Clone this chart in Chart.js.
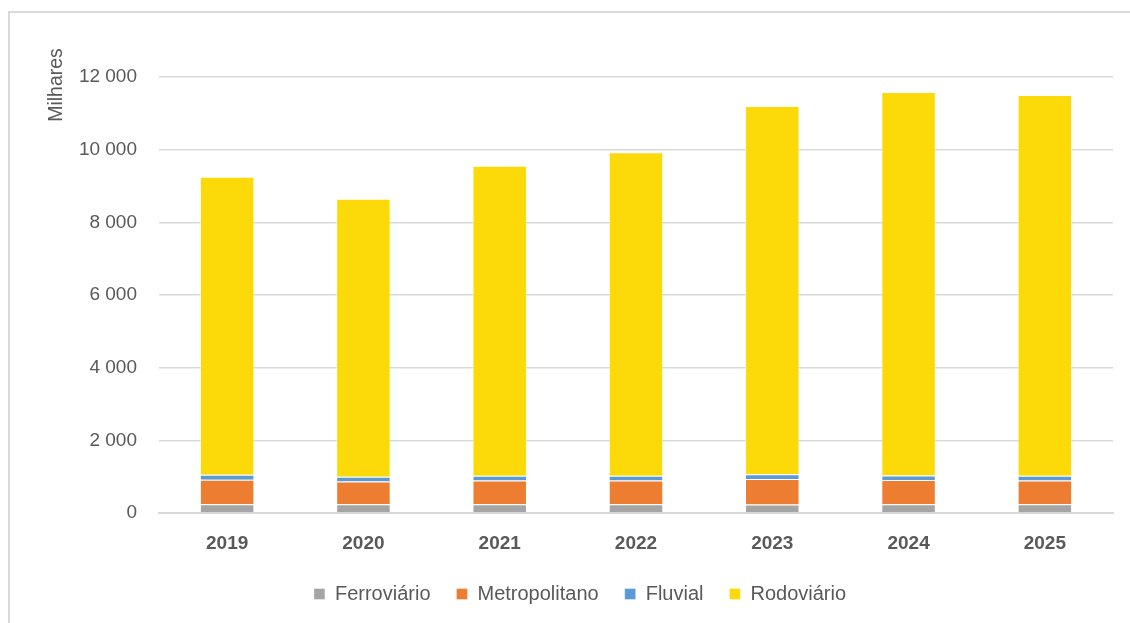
<!DOCTYPE html>
<html>
<head>
<meta charset="utf-8">
<script src="https://cdn.jsdelivr.net/npm/chart.js@4/dist/chart.umd.min.js"></script>
<style>
  html, body { margin: 0; padding: 0; background: #ffffff; overflow: hidden; }
  #frame {
    position: absolute; left: 8px; top: 11px; width: 1140px; height: 640px;
    border-left: 2px solid #d9d9d9; border-top: 2px solid #d9d9d9;
    box-sizing: border-box;
  }
  #wrap { position: absolute; left: 0; top: 0; width: 1130px; height: 623px; }
</style>
</head>
<body>
<div id="frame"></div>
<div id="wrap"><canvas id="c" width="1130" height="623"></canvas></div>
<script>
// Passageiros transportados por modo (milhares)
const anos = ['2019', '2020', '2021', '2022', '2023', '2024', '2025'];
const ferroviario   = [240, 240, 240, 240, 235, 240, 240];
const metropolitano = [675, 630, 655, 655, 700, 665, 655];
const fluvial       = [138, 127, 127, 127, 129, 129, 127];
const rodoviario    = [8200, 7655, 8535, 8905, 10140, 10550, 10485];
const yTicks = [0, 2000, 4000, 6000, 8000, 10000, 12000];

const FONT = '"Liberation Sans", Arial, sans-serif';
const TXT = '#595959';
const PAD_LEFT = 47;

const fmt = v => String(v).replace(/\B(?=(\d{3})+(?!\d))/g, ' ');

// rotated unit label at the top of the value axis
const unitLabel = {
  id: 'unitLabel',
  afterDraw(chart) {
    const ctx = chart.ctx;
    ctx.save();
    ctx.translate(57, 85);
    ctx.rotate(-Math.PI / 2);
    ctx.font = '19.5px ' + FONT;
    ctx.fillStyle = TXT;
    ctx.textAlign = 'center';
    ctx.textBaseline = 'middle';
    ctx.fillText('Milhares', 0, 0);
    ctx.restore();
  }
};

const mk = (label, data, color) => ({
  label, data, backgroundColor: color,
  borderColor: 'rgba(255,255,255,0.35)', borderWidth: 1,
  barPercentage: 0.4, categoryPercentage: 1.0
});

new Chart(document.getElementById('c'), {
  type: 'bar',
  data: {
    labels: anos,
    datasets: [
      mk('Ferroviário', ferroviario, '#A5A5A5'),
      mk('Metropolitano', metropolitano, '#ED7D31'),
      mk('Fluvial', fluvial, '#5B9BD5'),
      mk('Rodoviário', rodoviario, '#FCDA0A')
    ]
  },
  options: {
    responsive: false,
    animation: false,
    devicePixelRatio: 1,
    layout: { padding: { left: PAD_LEFT, right: 17, top: 77, bottom: 9 } },
    plugins: {
      legend: {
        position: 'bottom',
        labels: {
          boxWidth: 11, boxHeight: 11, padding: 26,
          color: TXT, font: { family: FONT, size: 20 }
        }
      },
      tooltip: { enabled: false }
    },
    scales: {
      x: {
        stacked: true,
        grid: { display: false, drawTicks: false },
        border: { display: true, color: '#d9d9d9', width: 2 },
        ticks: { color: TXT, padding: 19, font: { family: FONT, size: 19, weight: 'bold' } },
        afterFit(s) { s.height = 45; }
      },
      y: {
        stacked: true,
        min: 0, max: 12000,
        afterBuildTicks(s) { s.ticks = yTicks.map(v => ({ value: v })); },
        grid: { color: '#d9d9d9', lineWidth: 1.5, drawTicks: false },
        border: { display: false },
        ticks: {
          color: TXT, padding: 22,
          font: { family: FONT, size: 19 },
          callback: v => fmt(v)
        },
        afterFit(s) { s.width = 159 - PAD_LEFT; }
      }
    }
  },
  plugins: [unitLabel]
});
</script>
</body>
</html>
